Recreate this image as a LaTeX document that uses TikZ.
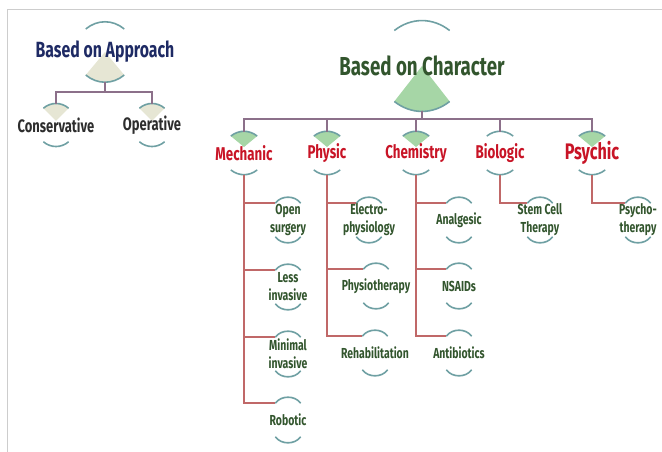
\documentclass[tikz,border=0pt]{standalone}
\usepackage{fontspec}
\setmainfont{Fira Sans}[FakeStretch=0.72]

\definecolor{arcteal}{RGB}{111,160,163}
\definecolor{trunkgray}{RGB}{140,112,138}
\definecolor{branchred}{RGB}{192,104,104}
\definecolor{wedgegreen}{RGB}{166,214,166}
\definecolor{wedgebeige}{RGB}{230,230,212}
\definecolor{redtxt}{RGB}{200,20,38}
\definecolor{greentxt}{RGB}{50,85,45}
\definecolor{navytxt}{RGB}{30,42,100}
\definecolor{graytxt}{RGB}{45,45,45}
\definecolor{framegray}{RGB}{205,205,205}

\begin{document}
\begin{tikzpicture}[x=1pt, y=1pt,
    ring/.style={circle, inner sep=0pt, outer sep=0pt, minimum size=#1},
    arcline/.style={arcteal, line width=1.6pt},
    trunk/.style={trunkgray, line width=1.2pt},
    branch/.style={branchred, line width=1.6pt},
    toptxt/.style={font=\bfseries\fontsize{26}{30}\selectfont, text=greentxt},
    apprtxt/.style={font=\bfseries\fontsize{22}{26}\selectfont, text=navytxt},
    waytxt/.style={font=\bfseries\fontsize{18}{20}\selectfont, text=graytxt},
    kindtxt/.style={font=\bfseries\fontsize{18.5}{20}\selectfont, text=redtxt},
    subtxt/.style={font=\bfseries\fontsize{14.5}{18}\selectfont, text=greentxt, align=center}]
  \useasboundingbox (0,0) rectangle (662,-452);
  \draw[framegray, line width=0.8pt] (7,-452) -- (7,-9) -- (662,-9);

  \node[ring=60pt] (appr) at (105,-52) {};
  \node[ring=42pt] (cons) at (56,-125) {};
  \node[ring=42pt] (oper) at (152,-125) {};
  \node[ring=90pt] (char) at (422,-66) {};
  \node[ring=43pt] (mech) at (244,-153) {};
  \node[ring=43pt] (phys) at (327,-153) {};
  \node[ring=43pt] (chem) at (416,-153) {};
  \node[ring=43pt] (biol) at (500,-153) {};
  \node[ring=43pt] (psyc) at (592,-153) {};
  \node[ring=42pt] (open) at (288,-220) {};
  \node[ring=42pt] (less) at (288,-287) {};
  \node[ring=42pt] (mini) at (288,-354) {};
  \node[ring=42pt] (robo) at (288,-420) {};
  \node[ring=42pt] (elec) at (369,-220) {};
  \node[ring=42pt] (phth) at (376,-286) {};
  \node[ring=42pt] (rehab) at (375,-353) {};
  \node[ring=42pt] (anal) at (459,-220) {};
  \node[ring=42pt] (nsaid) at (459,-286) {};
  \node[ring=42pt] (anti) at (459,-353) {};
  \node[ring=42pt] (stem) at (540,-220) {};
  \node[ring=42pt] (psth) at (638,-220) {};

  \fill[wedgebeige] (appr.center) -- (appr.-130) to[bend right=40] (appr.-50) -- cycle;
  \fill[wedgebeige] ([yshift=4pt]cons.center) -- (cons.127) to[bend left=40] (cons.53) -- cycle;
  \fill[wedgebeige] ([yshift=4pt]oper.center) -- (oper.127) to[bend left=40] (oper.53) -- cycle;
  \fill[wedgegreen] (char.center) -- (char.-128) to[bend right=38] (char.-52) -- cycle;
  \fill[wedgegreen] ([yshift=6pt]mech.center) -- (mech.128) to[bend left=38] (mech.52) -- cycle;
  \fill[wedgegreen] ([yshift=6pt]phys.center) -- (phys.128) to[bend left=38] (phys.52) -- cycle;
  \fill[wedgegreen] ([yshift=6pt]chem.center) -- (chem.128) to[bend left=38] (chem.52) -- cycle;
  \fill[wedgegreen] ([yshift=6pt]psyc.center) -- (psyc.128) to[bend left=38] (psyc.52) -- cycle;

  \draw[arcline] (appr.130) to[bend left=40] (appr.50) (appr.-130) to[bend right=40] (appr.-50);
  \draw[arcline] (cons.127) to[bend left=40] (cons.53) (cons.-127) to[bend right=40] (cons.-53);
  \draw[arcline] (oper.127) to[bend left=40] (oper.53) (oper.-127) to[bend right=40] (oper.-53);
  \draw[arcline] (char.128) to[bend left=38] (char.52) (char.-128) to[bend right=38] (char.-52);
  \foreach \n in {mech,phys,chem,biol,psyc}
    \draw[arcline] (\n.128) to[bend left=38] (\n.52) (\n.-128) to[bend right=38] (\n.-52);
  \foreach \n in {open,less,mini,robo,elec,phth,rehab,anal,nsaid,anti,stem,psth}
    \draw[arcline] (\n.127) to[bend left=55] (\n.53) (\n.-127) to[bend right=55] (\n.-53);

  \draw[trunk] (appr.-90) -- ++(0,-10) -| (cons.90);
  \draw[trunk] (appr.-90) -- ++(0,-10) -| (oper.90);
  \foreach \n in {mech,phys,chem,biol,psyc}
    \draw[trunk] (char.-90) -- ++(0,-8) -| (\n.90);

  \foreach \n in {open,less,mini,robo}
    \draw[branch] (mech.-90) |- (\n.127);
  \foreach \n in {elec,phth,rehab}
    \draw[branch] (phys.-90) |- (\n.127);
  \foreach \n in {anal,nsaid,anti}
    \draw[branch] (chem.-90) |- (\n.127);
  \draw[branch] (biol.-90) |- (stem.127);
  \draw[branch] (psyc.-90) |- (psth.127);

  \node[apprtxt] (appr-t) at (appr) {Based on Approach};
  \node[waytxt] (cons-t) at (cons) {Conservative};
  \node[waytxt] (oper-t) at (oper) {Operative};
  \node[toptxt] (char-t) at (char) {Based on Character};
  \node[kindtxt] (mech-t) at (mech) {Mechanic};
  \node[kindtxt] (phys-t) at (phys) {Physic};
  \node[kindtxt] (chem-t) at (chem) {Chemistry};
  \node[kindtxt] (biol-t) at (biol) {Biologic};
  \node[kindtxt, font=\bfseries\fontsize{22.5}{24}\selectfont] (psyc-t) at (psyc) {Psychic};
  \node[subtxt] (open-t) at (open) {Open\\surgery};
  \node[subtxt] (less-t) at (less) {Less\\invasive};
  \node[subtxt] (mini-t) at (mini) {Minimal\\invasive};
  \node[subtxt] (robo-t) at (robo) {Robotic};
  \node[subtxt] (elec-t) at (elec) {Electro-\\physiology};
  \node[subtxt] (phth-t) at (phth) {Physiotherapy};
  \node[subtxt] (rehab-t) at (rehab) {Rehabilitation};
  \node[subtxt] (anal-t) at (anal) {Analgesic};
  \node[subtxt] (nsaid-t) at (nsaid) {NSAIDs};
  \node[subtxt] (anti-t) at (anti) {Antibiotics};
  \node[subtxt] (stem-t) at (stem) {Stem Cell\\Therapy};
  \node[subtxt] (psth-t) at (psth) {Psycho-\\therapy};
\end{tikzpicture}
\end{document}
